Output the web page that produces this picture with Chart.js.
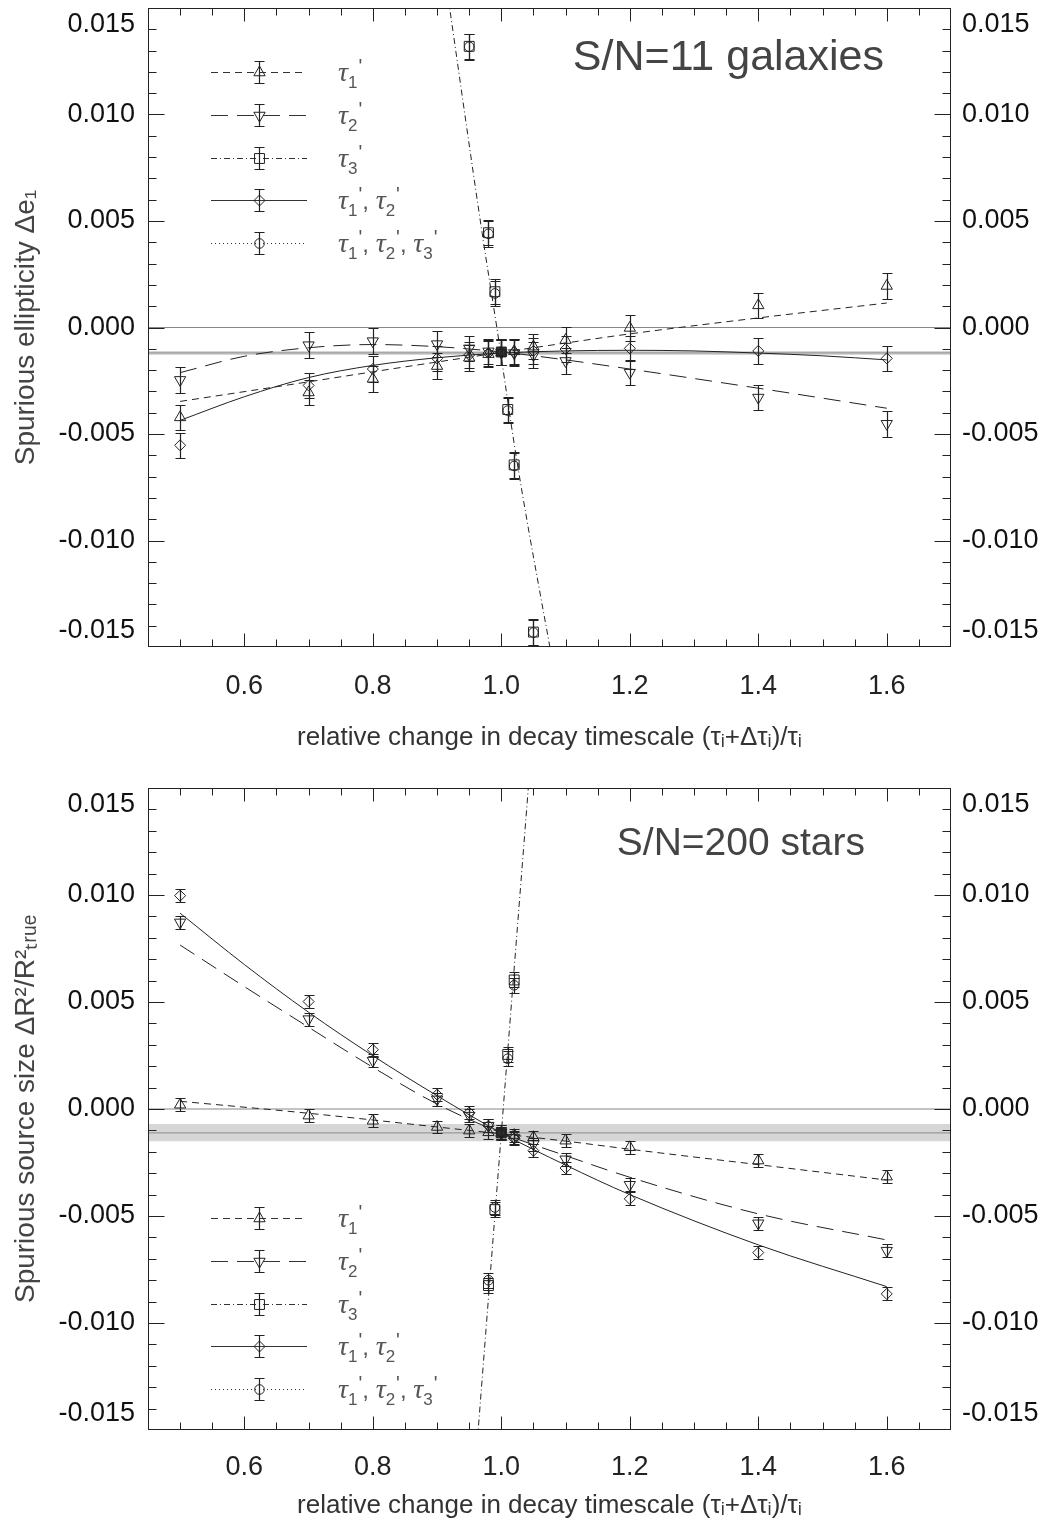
<!DOCTYPE html>
<html>
<head>
<meta charset="utf-8">
<script src="https://cdn.jsdelivr.net/npm/chart.js@4.4.1/dist/chart.umd.min.js"></script>
<style>
html,body{margin:0;padding:0;background:#fff;}
canvas{display:block;}
</style>
</head>
<body>
<canvas id="c1" width="1044" height="770"></canvas>
<canvas id="c2" width="1044" height="755"></canvas>
<script>
// ---------------- DATA ----------------
const xTickVals   = [0.6, 0.8, 1.0, 1.2, 1.4, 1.6];
const xTickLabels = ['0.6', '0.8', '1.0', '1.2', '1.4', '1.6'];
const yTickVals   = [-0.015, -0.010, -0.005, 0.000, 0.005, 0.010, 0.015];
const yTickLabels = ['-0.015', '-0.010', '-0.005', '0.000', '0.005', '0.010', '0.015'];

const xMain = [0.5, 0.7, 0.8, 0.9, 0.95, 0.98, 1.0, 1.02, 1.05, 1.1, 1.2, 1.4, 1.6];
const xTop3 = [0.95, 0.98, 0.99, 1.0, 1.01, 1.02, 1.05];
const xBot3 = [0.98, 0.99, 1.0, 1.01, 1.02];

// top panel: S/N=11 galaxies, spurious ellipticity
const gTau1   = [-0.00422,-0.00305,-0.00241,-0.00181,-0.00142,-0.00125,-0.00118,-0.00112,-0.00090,-0.00059,-0.00002,0.00104,0.00195];
const gTau2   = [-0.00246,-0.00083,-0.00064,-0.00078,-0.00098,-0.00112,-0.00118,-0.00120,-0.00129,-0.00157,-0.00212,-0.00329,-0.00452];
const gTau12  = [-0.00553,-0.00272,-0.00195,-0.00145,-0.00129,-0.00120,-0.00118,-0.00116,-0.00110,-0.00101,-0.00098,-0.00110,-0.00145];
const gTau3   = [0.01320,0.00445,0.00168,-0.00115,-0.00385,-0.00645,-0.01430];
const gTau123 = [0.01318,0.00440,0.00160,-0.00115,-0.00390,-0.00650,-0.01432];
const gErrMain = [0.0006,0.0006,0.0006,0.0006,0.0006,0.0006,0.0006,0.0006,0.0006,0.0006,0.0006,0.0006,0.0006];
const gErr3    = [0.0006,0.0006,0.0006,0.0006,0.0006,0.0006,0.0006];

const gFitX1  = [0.5,0.7,0.8,0.9,1.0,1.1,1.2,1.4,1.6];
const gFit1   = [-0.00347,-0.00255,-0.00208,-0.00162,-0.00117,-0.00073,-0.00030,0.00045,0.00115];
const gFitX2  = [0.5,0.6,0.7,0.8,0.9,1.0,1.1,1.2,1.4,1.6];
const gFit2   = [-0.00212,-0.00135,-0.00095,-0.00080,-0.00090,-0.00115,-0.00152,-0.00195,-0.00285,-0.00379];
const gFitX12 = [0.5,0.6,0.7,0.8,0.9,1.0,1.1,1.2,1.3,1.4,1.5,1.6];
const gFit12  = [-0.00436,-0.00325,-0.00235,-0.00178,-0.00142,-0.00120,-0.00110,-0.00107,-0.00110,-0.00120,-0.00133,-0.00152];
const gFitX3  = [0.9148,0.970,0.993,1.025,1.0815];
const gFit3   = [0.0160,0.00446,0.0,-0.0064,-0.0160];
const gBand   = [-0.00129,-0.00119,-0.00110];   // low, centre, high

// bottom panel: S/N=200 stars, spurious size
const sTau1   = [0.00020,-0.00031,-0.00055,-0.00084,-0.00101,-0.00109,-0.00112,-0.00122,-0.00132,-0.00148,-0.00179,-0.00241,-0.00316];
const sTau2   = [0.00872,0.00420,0.00226,0.00045,-0.00031,-0.00078,-0.00112,-0.00135,-0.00164,-0.00235,-0.00354,-0.00534,-0.00662];
const sTau12  = [0.00997,0.00502,0.00277,0.00067,-0.00017,-0.00078,-0.00112,-0.00138,-0.00195,-0.00276,-0.00420,-0.00671,-0.00864];
const sTau3   = [-0.00825,-0.00470,-0.00112,0.00255,0.00603];
const sTau123 = [-0.00800,-0.00460,-0.00112,0.00235,0.00578];
const sErrMain = [0.0003,0.0003,0.0003,0.0003,0.0003,0.0003,0.0003,0.0003,0.0003,0.0003,0.0003,0.0003,0.0003];
const sErr3    = [0.00035,0.00035,0.00035,0.00035,0.00035];

const sFitX1  = [0.5,0.7,0.9,1.1,1.2,1.4,1.6];
const sFit1   = [0.00036,-0.00020,-0.00084,-0.00150,-0.00188,-0.00260,-0.00332];
const sFitX2  = [0.5,0.6,0.7,0.8,0.9,1.0,1.1,1.2,1.4,1.6];
const sFit2   = [0.00766,0.00572,0.00382,0.00195,0.00023,-0.00112,-0.00218,-0.00319,-0.00490,-0.00612];
const sFitX12 = [0.5,0.6,0.7,0.8,0.9,1.0,1.1,1.2,1.4,1.6];
const sFit12  = [0.00915,0.00675,0.00452,0.00249,0.00062,-0.00112,-0.00262,-0.00400,-0.00635,-0.00830];
const sFitX3  = [0.9614,1.0,1.0446];
const sFit3   = [-0.0160,-0.00112,0.0160];
const sBand   = [-0.00151,-0.00112,-0.00070];

const legendLabels = [[1], [2], [3], [1, 2], [1, 2, 3]];

// ---------------- STYLE ----------------
const X_MIN = 0.45, X_MAX = 1.7, Y_MIN = -0.015, Y_MAX = 0.015;
const FONT = '"Liberation Sans", Arial, Helvetica, sans-serif';
const INK = '#222';
const ST = {
  t1:  {pointStyle:'triangle', rotation:0,   radius:6.5, dash:[7,5]},
  t2:  {pointStyle:'triangle', rotation:180, radius:6.5, dash:[17,9]},
  t3:  {pointStyle:'rect',     rotation:0,   radius:7,   dash:[6,3,1,3]},
  t12: {pointStyle:'rectRot',  rotation:0,   radius:5.5, dash:[]},
  t123:{pointStyle:'circle',   rotation:0,   radius:4.8, dash:[1,3]}
};
const legendOrder = ['t1','t2','t3','t12','t123'];

function pts(xs, ys) { return xs.map((x, i) => ({x: x, y: ys[i]})); }
function near(a, b) { return Math.abs(a - b) < 1e-7; }
function xLabel(v) {
  const i = xTickVals.findIndex(t => near(t, v));
  return i >= 0 ? xTickLabels[i] : '';
}
function yLabel(v) {
  const i = yTickVals.findIndex(t => near(t, v));
  if (i < 0) return '';
  if (i === yTickVals.length - 1) return ['', yTickLabels[i]];
  if (i === 0) return [yTickLabels[i], ''];
  return yTickLabels[i];
}

function fitDs(xs, ys, st) {
  return {data: pts(xs, ys), showLine: true, borderColor: INK, borderWidth: 1, borderDash: st.dash,
          pointRadius: 0, cubicInterpolationMode: 'monotone', fill: false, order: 50};
}
function ptDs(xs, ys, errs, st) {
  return {data: pts(xs, ys), showLine: false, pointStyle: st.pointStyle, rotation: st.rotation,
          pointRadius: st.radius, pointBorderColor: INK, pointBorderWidth: 1,
          pointBackgroundColor: (c) => (st.pointStyle === 'rect' && c.raw && near(c.raw.x, 1.0)) ? '#333' : 'rgba(0,0,0,0)',
          err: errs, order: 10};
}
function refDs(band) {
  return [
    {data: pts([X_MIN, X_MAX], [band[2], band[2]]), showLine: true, borderWidth: 0, pointRadius: 0,
     borderColor: 'rgba(0,0,0,0)', fill: {value: band[0]}, backgroundColor: '#d6d6d6', order: 100},
    {data: pts([X_MIN, X_MAX], [band[1], band[1]]), showLine: true, borderWidth: 1.2, pointRadius: 0,
     borderColor: '#999999', fill: false, order: 99},
    {data: pts([X_MIN, X_MAX], [0, 0]), showLine: true, borderWidth: 1.2, pointRadius: 0,
     borderColor: '#888888', fill: false, order: 98}
  ];
}

// ------------- PLUGINS -------------
const errorBars = {
  id: 'errorBars',
  afterDatasetsDraw(chart) {
    const {ctx, chartArea: a} = chart;
    const x = chart.scales.x, y = chart.scales.y;
    ctx.save();
    ctx.beginPath(); ctx.rect(a.left, a.top, a.right - a.left, a.bottom - a.top); ctx.clip();
    ctx.strokeStyle = INK; ctx.lineWidth = 1.2;
    chart.data.datasets.forEach(ds => {
      if (!ds.err) return;
      ds.data.forEach((p, i) => {
        const px = Math.round(x.getPixelForValue(p.x)) + 0.5;
        const y1 = Math.round(y.getPixelForValue(p.y + ds.err[i])) + 0.5;
        const y2 = Math.round(y.getPixelForValue(p.y - ds.err[i])) + 0.5;
        ctx.beginPath();
        ctx.moveTo(px, y1); ctx.lineTo(px, y2);
        ctx.moveTo(px - 5, y1); ctx.lineTo(px + 5, y1);
        ctx.moveTo(px - 5, y2); ctx.lineTo(px + 5, y2);
        ctx.stroke();
      });
    });
    ctx.restore();
  }
};

const frame = {
  id: 'frame',
  afterDatasetsDraw(chart) {
    const {ctx, chartArea: a} = chart;
    const x = chart.scales.x, y = chart.scales.y;
    ctx.save();
    ctx.strokeStyle = INK; ctx.lineWidth = 1;
    const L = Math.round(a.left) + 0.5, R = Math.round(a.right) - 0.5;
    const T = Math.round(a.top) + 0.5, B = Math.round(a.bottom) - 0.5;
    ctx.beginPath();
    x.ticks.forEach(t => {
      const px = Math.round(x.getPixelForValue(t.value)) + 0.5;
      if (px < L + 1 || px > R - 1) return;
      const len = xTickVals.some(v => near(v, t.value)) ? 13 : 7;
      ctx.moveTo(px, B); ctx.lineTo(px, B - len);
      ctx.moveTo(px, T); ctx.lineTo(px, T + len);
    });
    y.ticks.forEach(t => {
      const py = Math.round(y.getPixelForValue(t.value)) + 0.5;
      if (py < T + 1 || py > B - 1) return;
      const len = yTickVals.some(v => near(v, t.value)) ? 16 : 8;
      ctx.moveTo(L, py); ctx.lineTo(L + len, py);
      ctx.moveTo(R, py); ctx.lineTo(R - len, py);
    });
    ctx.stroke();
    ctx.strokeRect(L, T, R - L, B - T);
    ctx.restore();
  }
};

function drawMarker(ctx, st, x, y) {
  const r = st.radius;
  ctx.beginPath();
  if (st.pointStyle === 'triangle') {
    let rad = st.rotation * Math.PI / 180;
    ctx.moveTo(x + Math.sin(rad) * r, y - Math.cos(rad) * r);
    rad += 2 * Math.PI / 3; ctx.lineTo(x + Math.sin(rad) * r, y - Math.cos(rad) * r);
    rad += 2 * Math.PI / 3; ctx.lineTo(x + Math.sin(rad) * r, y - Math.cos(rad) * r);
    ctx.closePath();
  } else if (st.pointStyle === 'rect') {
    const s = Math.SQRT1_2 * r; ctx.rect(x - s, y - s, 2 * s, 2 * s);
  } else if (st.pointStyle === 'rectRot') {
    ctx.moveTo(x - r, y); ctx.lineTo(x, y - r); ctx.lineTo(x + r, y); ctx.lineTo(x, y + r); ctx.closePath();
  } else {
    ctx.arc(x, y, r, 0, 2 * Math.PI);
  }
  ctx.stroke();
}

function drawTauText(ctx, x, y, idx) {
  let cx = x;
  ctx.fillStyle = '#555';
  ctx.textBaseline = 'alphabetic';
  ctx.textAlign = 'left';
  idx.forEach((k, j) => {
    if (j > 0) {
      ctx.font = '24px ' + FONT; ctx.fillText(',', cx, y + 9); cx += ctx.measureText(', ').width;
    }
    ctx.font = 'italic 28px "Liberation Serif", "DejaVu Serif", serif';
    ctx.fillText('τ', cx, y + 9); cx += ctx.measureText('τ').width;
    ctx.font = '17px ' + FONT;
    ctx.fillText(String(k), cx, y + 16); const w = ctx.measureText(String(k)).width;
    ctx.font = '20px ' + FONT;
    ctx.fillText("'", cx + w + 1, y + 1); cx += w + 1 + ctx.measureText("'").width;
  });
}

const decor = {
  id: 'decor',
  afterDraw(chart, args, opts) {
    const ctx = chart.ctx;
    ctx.save();
    // panel title
    ctx.fillStyle = '#444';
    ctx.font = opts.titleSize + 'px ' + FONT;
    ctx.textAlign = 'right'; ctx.textBaseline = 'alphabetic';
    ctx.fillText(opts.title, opts.titleX, opts.titleY);
    // legend
    legendOrder.forEach((key, i) => {
      const st = ST[key], yy = opts.legendY[i] + 0.5;
      ctx.strokeStyle = '#333'; ctx.lineWidth = 1;
      ctx.setLineDash(st.dash);
      ctx.beginPath(); ctx.moveTo(211, yy); ctx.lineTo(307, yy); ctx.stroke();
      ctx.setLineDash([]);
      ctx.strokeStyle = INK;
      drawMarker(ctx, st, 259.5, yy);
      ctx.lineWidth = 1.2;
      ctx.beginPath();
      ctx.moveTo(259.5, yy - 11); ctx.lineTo(259.5, yy + 11);
      ctx.moveTo(254.5, yy - 11); ctx.lineTo(264.5, yy - 11);
      ctx.moveTo(254.5, yy + 11); ctx.lineTo(264.5, yy + 11);
      ctx.stroke();
      drawTauText(ctx, 338, opts.legendY[i], legendLabels[i]);
    });
    ctx.restore();
  }
};

// ------------- CHART FACTORY -------------
function makeChart(id, p) {
  const datasets = [].concat(
    refDs(p.band),
    [fitDs(p.fx1, p.f1, ST.t1), fitDs(p.fx2, p.f2, ST.t2), fitDs(p.fx12, p.f12, ST.t12), fitDs(p.fx3, p.f3, ST.t3)],
    [ptDs(xMain, p.t1, p.errMain, ST.t1), ptDs(xMain, p.t2, p.errMain, ST.t2), ptDs(xMain, p.t12, p.errMain, ST.t12),
     ptDs(p.x3, p.t3, p.err3, ST.t3), ptDs(p.x3, p.t123, p.err3, ST.t123)]
  );
  const noGrid = {display: false, drawTicks: false, tickLength: 0};
  const yTicks = {autoSkip: false, stepSize: 0.001, color: '#111', font: {family: FONT, size: 27}, padding: 13,
                  callback: (v) => yLabel(v)};
  return new Chart(document.getElementById(id), {
    type: 'scatter',
    data: {datasets},
    options: {
      responsive: false, animation: false, devicePixelRatio: 1, events: [],
      layout: {padding: {top: p.padTop, bottom: 0, left: 0, right: 0}},
      plugins: {legend: {display: false}, tooltip: {enabled: false},
                decor: {title: p.title, titleX: p.titleX, titleY: p.titleY, titleSize: p.titleSize, legendY: p.legendY}},
      scales: {
        x: {type: 'linear', min: X_MIN, max: X_MAX, grid: noGrid, border: {display: false},
            ticks: {autoSkip: false, stepSize: 0.05, maxRotation: 0, minRotation: 0, color: '#222',
                    font: {family: FONT, size: 27}, padding: p.xPad, callback: (v) => xLabel(v)},
            title: {display: true, text: 'relative change in decay timescale (τᵢ+Δτᵢ)/τᵢ', color: '#333',
                    font: {family: FONT, size: 26}, padding: {top: 0, bottom: p.xTitlePad}},
            afterFit: (s) => { s.height = p.xH; s.paddingLeft = 0; s.paddingRight = 0; }},
        y: {type: 'linear', position: 'left', min: Y_MIN, max: Y_MAX, grid: noGrid, border: {display: false},
            ticks: yTicks,
            title: {display: true, text: p.yTitle, color: '#444', font: {family: FONT, size: 28}, padding: {top: 9, bottom: 0}},
            afterFit: (s) => { s.width = 148; s.paddingTop = 0; s.paddingBottom = 0; }},
        y2: {type: 'linear', position: 'right', min: Y_MIN, max: Y_MAX, grid: noGrid, border: {display: false},
             ticks: Object.assign({}, yTicks, {padding: 11}),
             afterFit: (s) => { s.width = 93; s.paddingTop = 0; s.paddingBottom = 0; }}
      }
    },
    plugins: [errorBars, frame, decor]
  });
}

makeChart('c1', {
  band: gBand, fx1: gFitX1, f1: gFit1, fx2: gFitX2, f2: gFit2, fx12: gFitX12, f12: gFit12, fx3: gFitX3, f3: gFit3,
  t1: gTau1, t2: gTau2, t12: gTau12, x3: xTop3, t3: gTau3, t123: gTau123, errMain: gErrMain, err3: gErr3,
  padTop: 5, xH: 123, xPad: 23, xTitlePad: 17,
  yTitle: 'Spurious ellipticity Δe₁',
  title: 'S/N=11 galaxies', titleX: 884, titleY: 70, titleSize: 43, legendY: [72, 115, 158, 200, 243]
});
makeChart('c2', {
  band: sBand, fx1: sFitX1, f1: sFit1, fx2: sFitX2, f2: sFit2, fx12: sFitX12, f12: sFit12, fx3: sFitX3, f3: sFit3,
  t1: sTau1, t2: sTau2, t12: sTau12, x3: xBot3, t3: sTau3, t123: sTau123, errMain: sErrMain, err3: sErr3,
  padTop: 18, xH: 95, xPad: 21, xTitlePad: 4,
  yTitle: 'Spurious source size ΔR²/R²ₜᵣᵤₑ',
  title: 'S/N=200 stars', titleX: 865, titleY: 85, titleSize: 39, legendY: [448, 491, 534, 576, 619]
});
</script>
</body>
</html>
